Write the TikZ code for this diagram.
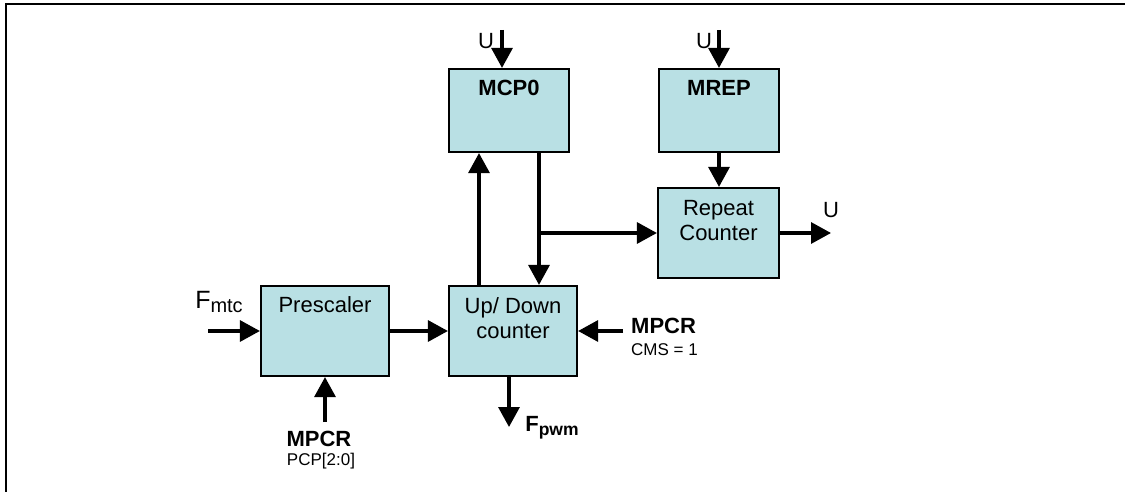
\documentclass[tikz,border=0pt]{standalone}
\usepackage{fontspec}
\setmainfont{Liberation Sans}
\usetikzlibrary{arrows.meta,calc}
\definecolor{boxfill}{RGB}{185,224,228}
\begin{document}
\begin{tikzpicture}[x=1pt,y=-1pt,
  blk/.style={draw=black, line width=2.2pt, fill=boxfill, rectangle, inner sep=0pt},
  txt/.style={font=\fontsize{22}{25}\selectfont, inner sep=0pt, align=center},
  btxt/.style={font=\fontsize{22}{25}\selectfont\bfseries, inner sep=0pt, align=center},
  arr/.style={line width=3.3pt, -{Triangle[length=20pt,width=21pt]}},
  ulbl/.style={font=\fontsize{22}{22}\selectfont, inner sep=0pt},
  small/.style={font=\fontsize{17}{17}\selectfont, inner sep=0pt}]
\useasboundingbox (0,0) rectangle (1125,492);
\draw[line width=2.5pt] (6,492) -- (6,4) -- (1125,4);

% boxes
\node[blk, minimum width=120pt, minimum height=83pt] (mcp) at (509,110.5) {};
\node[blk, minimum width=120pt, minimum height=83pt] (mrep) at (719,110.5) {};
\node[blk, minimum width=121pt, minimum height=90pt] (rep) at (718.5,233) {};
\node[blk, minimum width=128pt, minimum height=90pt] (pre) at (325,331) {};
\node[blk, minimum width=128pt, minimum height=90pt] (ud) at (513,331) {};

% box texts
\node[btxt] (tmcp) at (509,88) {MCP0};
\node[btxt] (tmrep) at (719,88) {MREP};
\node[txt] (trep) at (718.5,220.5) {Repeat\\Counter};
\node[txt] (tpre) at (325,305) {Prescaler};
\node[txt] (tud) at (513,318) {Up/ Down\\counter};

% free ends
\coordinate (u1) at (502,30);
\coordinate (u2) at (719,30);
\coordinate (xa) at (479,0);
\coordinate (xb) at (539,0);
\coordinate (br) at (539,233);
\coordinate (uout) at (831,233);
\coordinate (fin) at (208,331);
\coordinate (min) at (623,331);
\coordinate (pin) at (325,422);
\coordinate (fout) at (509,427);

% connectors
\draw[arr] (u1) -- (mcp.north -| u1);
\draw[arr] (u2) -- (mrep.north -| u2);
\draw[arr] (ud.north -| xa) -- (mcp.south -| xa);
\draw[arr] (mcp.south -| xb) -- (ud.north -| xb);
\draw[arr] (br) -- (rep.west);
\draw[arr] (mrep.south) -- (mrep.south |- rep.north);
\draw[arr] (rep.east) -- (uout);
\draw[arr] (fin) -- (pre.west);
\draw[arr] (pre.east) -- (ud.west);
\draw[arr] (min) -- (ud.east);
\draw[arr] (pin) -- (pre.south);
\draw[arr] (ud.south -| fout) -- (fout);

% labels
\node[ulbl] (lu1) at (486,41) {U};
\node[ulbl] (lu2) at (704,41) {U};
\node[ulbl] (lu3) at (831,210) {U};
\node[font=\fontsize{25}{25}\selectfont, inner sep=0pt] (lfm) at (219,302) {F\raisebox{-4pt}{\fontsize{20}{20}\selectfont mtc}};
\node[font=\fontsize{22}{22}\selectfont\bfseries, inner sep=0pt, anchor=west] (lmp1) at (631,326) {MPCR};
\node[small, anchor=west] (lcms) at (631,350) {CMS = 1};
\node[font=\fontsize{22}{22}\selectfont\bfseries, inner sep=0pt] (lmp2) at (319,439) {MPCR};
\node[small] (lpcp) at (321,461) {PCP[2:0]};
\node[font=\fontsize{22}{22}\selectfont\bfseries, inner sep=0pt] (lfp) at (552,428) {F\raisebox{-4pt}{\fontsize{17.5}{17.5}\selectfont pwm}};
\end{tikzpicture}
\end{document}
